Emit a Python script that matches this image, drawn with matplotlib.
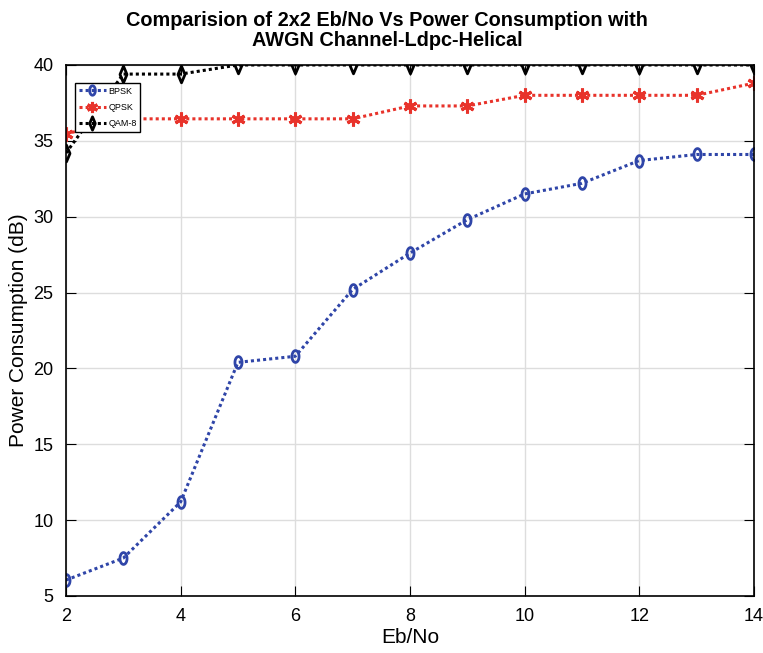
import numpy as np
from matplotlib import pyplot as plt
from matplotlib.path import Path

eb_no = [2, 3, 4, 5, 6, 7, 8, 9, 10, 11, 12, 13, 14]
bpsk = [6.05, 7.5, 11.2, 20.4, 20.8, 25.2, 27.6, 29.8, 31.5, 32.2, 33.7, 34.1, 34.1]
qpsk = [35.45, 36.45, 36.45, 36.45, 36.45, 36.45, 37.3, 37.3, 38.0, 38.0, 38.0, 38.0, 38.8]
qam8 = [34.2, 39.4, 39.4, 40, 40, 40, 40, 40, 40, 40, 40, 40, 40]

plt.rcParams['font.family'] = ['Liberation Sans', 'DejaVu Sans']

# narrow marker shapes like the matlab ones
t = np.linspace(0, 2 * np.pi, 40)
ellipse = Path(np.column_stack([0.6 * np.cos(t), np.sin(t)]), closed=True)
thin_diamond = Path([(0, 1), (0.42, 0), (0, -1), (-0.42, 0), (0, 1)], closed=True)

fig = plt.figure(figsize=(7.63, 6.53), dpi=100)
ax = fig.add_axes([0.0865, 0.0873, 0.9015, 0.8132])

dots = (0, (1, 1))
ax.plot(eb_no, bpsk, linestyle=dots, color='#2f45a8', lw=2.2, marker=ellipse,
        markersize=8.5, markerfacecolor='none', markeredgewidth=2, label='BPSK')
ax.plot(eb_no, qpsk, linestyle=dots, color='#e8332b', lw=2.2, marker=(6, 2, 0),
        markersize=10, markeredgewidth=2.2, label='QPSK')
ax.plot(eb_no, qam8, linestyle=dots, color='black', lw=2.2, marker=thin_diamond,
        markersize=12, markerfacecolor='none', markeredgewidth=2, label='QAM-8')

ax.set_xlim(2, 14)
ax.set_ylim(5, 40)
ax.set_xticks(np.arange(2, 15, 2))
ax.set_yticks(np.arange(5, 41, 5))
ax.grid(True, color='#dddddd', lw=1)
ax.set_axisbelow(True)
ax.tick_params(direction='in', top=True, right=True, labelsize=13, length=7, pad=9)
for s in ax.spines.values():
    s.set_linewidth(1.2)

ax.set_xlabel('Eb/No', fontsize=15, labelpad=2)
ax.set_ylabel('Power Consumption (dB)', fontsize=15, labelpad=4)
ax.set_title('Comparision of 2x2 Eb/No Vs Power Consumption with\nAWGN Channel-Ldpc-Helical',
             fontsize=14.3, fontweight='bold', pad=14, linespacing=1.05, x=0.467)

leg = ax.legend(loc='upper left', bbox_to_anchor=(0.013, 0.966), fontsize=6.5,
                fancybox=False, edgecolor='black', framealpha=1,
                handlelength=3, borderaxespad=0, labelspacing=0.8,
                borderpad=0.4, handletextpad=0.3, markerscale=0.8)
leg.get_frame().set_linewidth(1)

fig.savefig('out.png')
